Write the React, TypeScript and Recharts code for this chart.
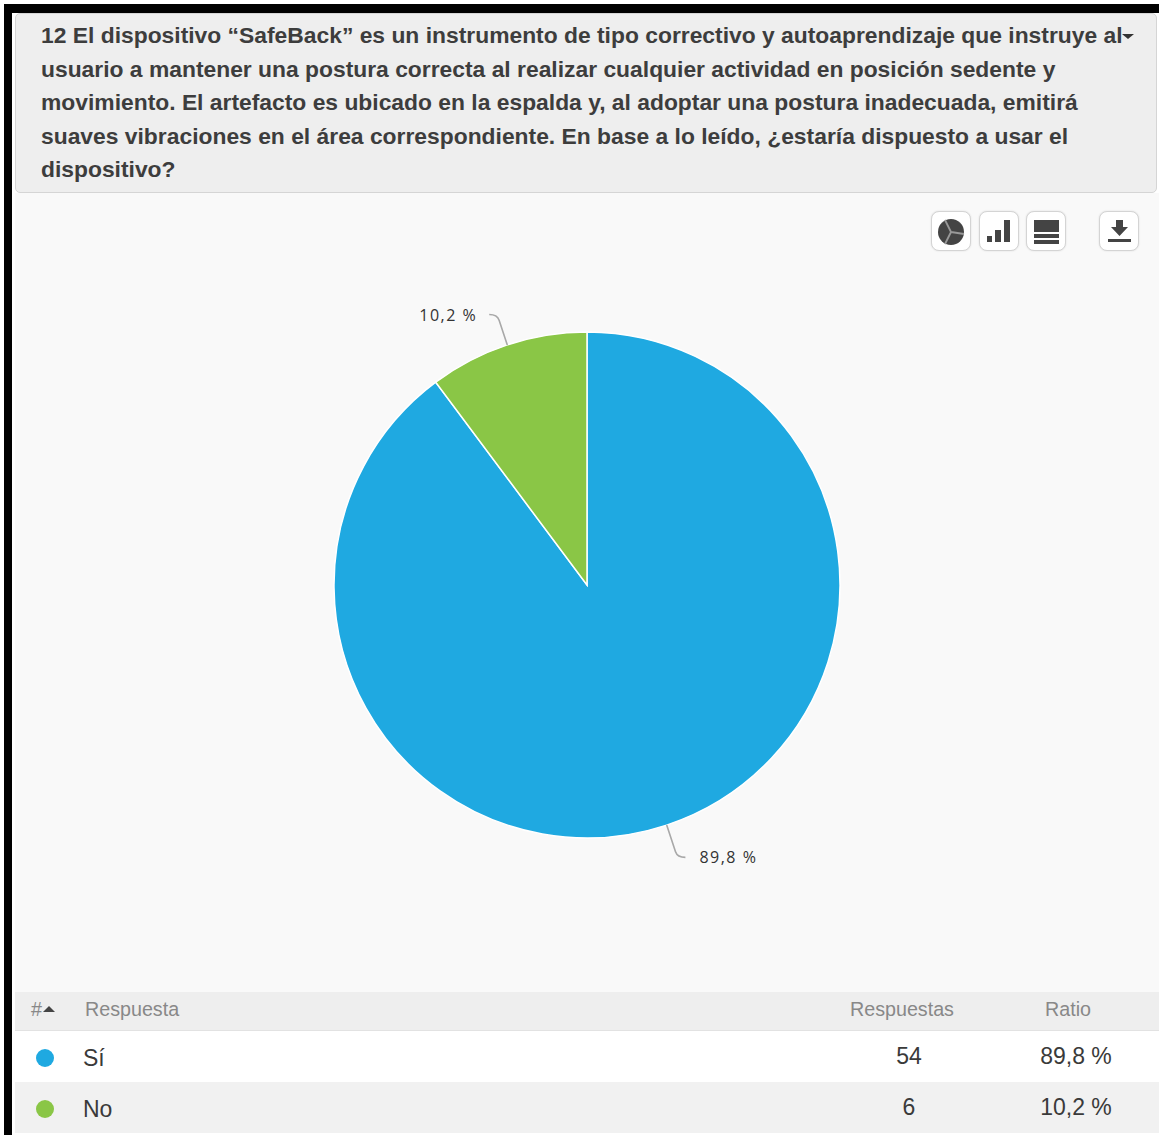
import React from 'react';
import { PieChart, Pie, Cell } from 'recharts';

const CATEGORIES = ['Sí', 'No'];
const RESPONSES = [54, 6];
const RATIOS = [89.8, 10.2];
const COLORS = ['#1fa9e1', '#8ac646'];
const QUESTION_LINES = [
  '12 El dispositivo “SafeBack” es un instrumento de tipo correctivo y autoaprendizaje que instruye al',
  'usuario a mantener una postura correcta al realizar cualquier actividad en posición sedente y',
  'movimiento. El artefacto es ubicado en la espalda y, al adoptar una postura inadecuada, emitirá',
  'suaves vibraciones en el área correspondiente. En base a lo leído, ¿estaría dispuesto a usar el',
  'dispositivo?',
];

const FONT = '"Liberation Sans", Arial, sans-serif';
const RAD = Math.PI / 180;

const formatRatio = (v: number) => `${v.toFixed(1).replace('.', ',')} %`;

const chartData = CATEGORIES.map((name, i) => ({ name, value: RATIOS[i] }));

// Leader line runs out radially, then bends into a short horizontal tail next to the text
const renderLabel = (props: any) => {
  const { cx, cy, midAngle, outerRadius, value } = props;
  const sin = Math.sin(-midAngle * RAD);
  const cos = Math.cos(-midAngle * RAD);
  const dir = cos >= 0 ? 1 : -1;
  const reach = dir > 0 ? 34 : 32;
  const x0 = cx + outerRadius * cos;
  const y0 = cy + outerRadius * sin;
  const x1 = cx + (outerRadius + reach) * cos;
  const y1 = cy + (outerRadius + reach) * sin;
  const x2 = x1 + dir * 8;
  const textX = dir > 0 ? x2 + 14 : x2 - 12;
  return (
    <g>
      <path
        d={`M${x0},${y0} L${x1 - cos * 6},${y1 - sin * 6} Q${x1},${y1} ${x2},${y1}`}
        fill="none"
        stroke="#a8a8a8"
        strokeWidth={1.6}
      />
      <text
        x={textX}
        y={y1}
        textAnchor={dir > 0 ? 'start' : 'end'}
        dominantBaseline="central"
        fontFamily='"Open Sans", sans-serif'
        fontSize={16}
        letterSpacing={1.5}
        fill="#333"
      >
        {formatRatio(value)}
      </text>
    </g>
  );
};

const IconButton: React.FC<{ left: number; children: React.ReactNode }> = ({ left, children }) => (
  <div
    style={{
      position: 'absolute',
      left,
      top: 211,
      width: 38,
      height: 38,
      background: '#fff',
      border: '1px solid #d4d4d4',
      borderRadius: 8,
      boxShadow: '0 0 2px rgba(0,0,0,0.12)',
    }}
  >
    <svg width={38} height={38} viewBox="0 0 38 38" style={{ display: 'block' }}>
      {children}
    </svg>
  </div>
);

const ICON = '#444';

const cellText = (left: number, top: number, color: string, size: number): React.CSSProperties => ({
  position: 'absolute',
  left,
  top,
  fontSize: size,
  lineHeight: '26px',
  color,
  whiteSpace: 'nowrap',
});

const App: React.FC = () => {
  return (
    <div
      style={{
        position: 'fixed',
        left: 0,
        top: 0,
        width: 1159,
        height: 1135,
        background: '#fff',
        overflow: 'hidden',
        fontFamily: FONT,
      }}
    >
      {/* outer frame */}
      <div style={{ position: 'absolute', left: 4, top: 4, width: 1155, height: 9, background: '#000' }} />
      <div style={{ position: 'absolute', left: 4, top: 4, width: 8, height: 1131, background: '#000' }} />

      {/* question header */}
      <div
        style={{
          position: 'absolute',
          left: 15,
          top: 13,
          width: 1142,
          height: 180,
          background: '#eee',
          border: '1px solid #d5d5d5',
          borderRadius: 5,
          boxSizing: 'border-box',
        }}
      />
      {QUESTION_LINES.map((line, i) => (
        <div
          key={i}
          style={{
            position: 'absolute',
            left: 41,
            top: 19 + i * 33.5,
            fontSize: 22.85,
            fontWeight: 700,
            lineHeight: '33px',
            color: '#3d3d3d',
            whiteSpace: 'nowrap',
          }}
        >
          {line}
        </div>
      ))}
      <div
        style={{
          position: 'absolute',
          left: 1122,
          top: 34,
          width: 0,
          height: 0,
          borderLeft: '6px solid transparent',
          borderRight: '6px solid transparent',
          borderTop: '5px solid #333',
        }}
      />

      {/* chart area */}
      <div style={{ position: 'absolute', left: 15, top: 193, width: 1144, height: 799, background: '#f9f9f9' }}>
        <PieChart width={1144} height={799} margin={{ top: 0, right: 0, bottom: 0, left: 0 }}>
          <Pie
            data={chartData}
            dataKey="value"
            nameKey="name"
            cx={572}
            cy={392}
            innerRadius={0}
            outerRadius={253}
            startAngle={90}
            endAngle={-270}
            stroke="#fff"
            strokeWidth={1.5}
            label={renderLabel}
            labelLine={false}
            isAnimationActive={false}
          >
            {chartData.map((_, i) => (
              <Cell key={i} fill={COLORS[i % COLORS.length]} />
            ))}
          </Pie>
        </PieChart>
      </div>

      {/* view switch and download buttons */}
      <IconButton left={931}>
        <circle cx={19} cy={20} r={13} fill={ICON} />
        <path d="M19 20 L13 8 M19 20 L32 22 M19 20 L13 32" stroke="#999" strokeWidth={1.8} fill="none" />
      </IconButton>
      <IconButton left={979}>
        <rect x={7} y={24} width={5} height={6} fill={ICON} />
        <rect x={15} y={18} width={6} height={12} fill={ICON} />
        <rect x={24} y={8} width={6} height={22} fill={ICON} />
      </IconButton>
      <IconButton left={1026}>
        <rect x={7} y={8} width={25} height={12} fill={ICON} />
        <rect x={7} y={22} width={25} height={4} fill={ICON} />
        <rect x={7} y={28} width={25} height={4} fill={ICON} />
      </IconButton>
      <IconButton left={1099}>
        <path d="M16 8 H23 V15 H28 L19.5 24 L11 15 H16 Z" fill={ICON} />
        <rect x={8} y={27} width={23} height={3} fill={ICON} />
      </IconButton>

      {/* response table */}
      <div
        style={{
          position: 'absolute',
          left: 15,
          top: 992,
          width: 1144,
          height: 38,
          background: '#eee',
          borderBottom: '1px solid #e2e2e2',
        }}
      />
      <div style={cellText(31, 996, '#888', 19.7)}>#</div>
      <div
        style={{
          position: 'absolute',
          left: 43,
          top: 1006,
          width: 0,
          height: 0,
          borderLeft: '6px solid transparent',
          borderRight: '6px solid transparent',
          borderBottom: '6px solid #444',
        }}
      />
      <div style={cellText(85, 996, '#888', 19.7)}>Respuesta</div>
      <div style={cellText(850, 996, '#888', 19.7)}>Respuestas</div>
      <div style={cellText(1045, 996, '#888', 19.7)}>Ratio</div>

      {CATEGORIES.map((name, i) => {
        const top = 1031 + i * 51;
        return (
          <div key={name}>
            <div
              style={{
                position: 'absolute',
                left: 15,
                top,
                width: 1144,
                height: 51,
                background: i % 2 === 0 ? '#fff' : '#f1f1f1',
              }}
            />
            <div
              style={{
                position: 'absolute',
                left: 36,
                top: top + 18,
                width: 18,
                height: 18,
                borderRadius: '50%',
                background: COLORS[i],
              }}
            />
            <div style={cellText(83, top + 14, '#3a3a3a', 23)}>{name}</div>
            <div style={{ ...cellText(869, top + 12, '#3a3a3a', 23), width: 80, textAlign: 'center' }}>
              {RESPONSES[i]}
            </div>
            <div style={{ ...cellText(1036, top + 12, '#3a3a3a', 23), width: 80, textAlign: 'center' }}>
              {formatRatio(RATIOS[i])}
            </div>
          </div>
        );
      })}
    </div>
  );
};

export default App;
